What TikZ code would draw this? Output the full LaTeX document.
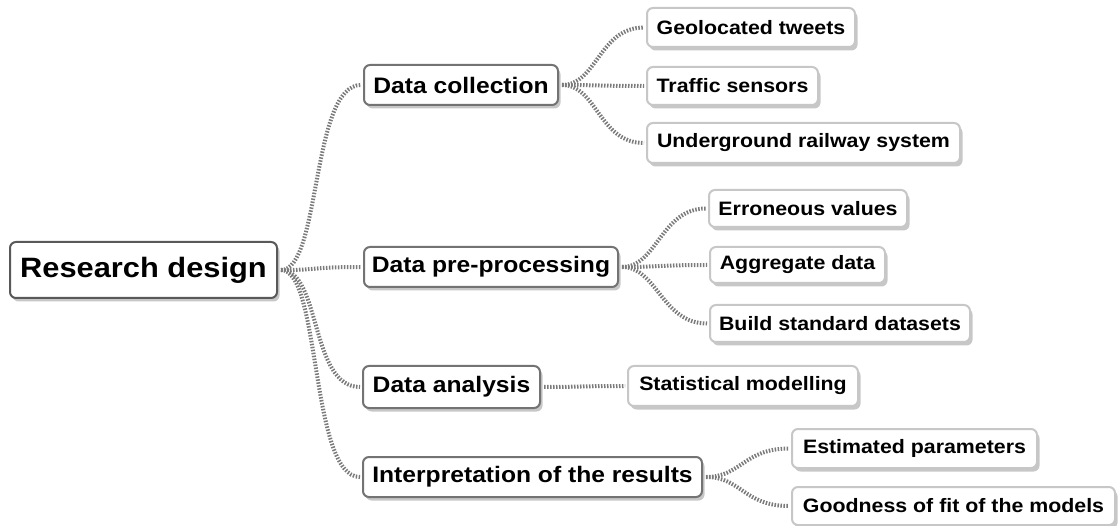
\documentclass[tikz,border=0pt]{standalone}
\usepackage{fontspec}
\newfontfamily\lsans{Liberation Sans}[FakeStretch=1.1]
\usetikzlibrary{shadows}
\begin{document}
\begin{tikzpicture}[x=1pt,y=-1pt,
  box/.style={rounded corners=6pt, fill=white, line width=2pt, inner sep=0pt, align=center,
    font=\lsans\bfseries, text=black,
    drop shadow={shadow xshift=2.5pt, shadow yshift=-3.5pt, opacity=0.22, fill=black}},
  rootbox/.style={box, draw=black!65, font=\lsans\bfseries\fontsize{28}{30}\selectfont},
  mainbox/.style={box, draw=black!55, font=\lsans\bfseries\fontsize{22.4}{25}\selectfont},
  leafbox/.style={box, draw=black!22, font=\lsans\bfseries\fontsize{19.4}{22}\selectfont},
  link/.style={draw=black!52, line width=4pt, dash pattern=on 1.5pt off 1.5pt}]
\useasboundingbox (0,0) rectangle (1119,526);

% root
\node[rootbox, minimum width=267pt, minimum height=56pt] (root) at (143.5,270) {Research design};

% level 1
\node[mainbox, minimum width=194pt, minimum height=40pt] (c1) at (461,85) {Data collection};
\node[mainbox, minimum width=254pt, minimum height=40pt] (c2) at (491,267) {Data pre-processing};
\node[mainbox, minimum width=177pt, minimum height=42pt] (c3) at (451.5,387) {Data analysis};
\node[mainbox, minimum width=339pt, minimum height=40pt] (c4) at (532.5,477) {Interpretation of the results};

% leaves
\node[leafbox, minimum width=208pt, minimum height=39pt] (l11) at (751,27.5) {Geolocated tweets};
\node[leafbox, minimum width=171pt, minimum height=38pt] (l12) at (732.5,86) {Traffic sensors};
\node[leafbox, minimum width=313pt, minimum height=40pt] (l13) at (803.5,143) {Underground railway system};
\node[leafbox, minimum width=198pt, minimum height=37pt] (l21) at (808,208.5) {Erroneous values};
\node[leafbox, minimum width=175pt, minimum height=36pt] (l22) at (797.5,265) {Aggregate data};
\node[leafbox, minimum width=260pt, minimum height=37pt] (l23) at (840,323.5) {Build standard datasets};
\node[leafbox, minimum width=230pt, minimum height=40pt] (l31) at (743,386) {Statistical modelling};
\node[leafbox, minimum width=245pt, minimum height=39pt] (l41) at (914.5,448.5) {Estimated parameters};
\node[leafbox, minimum width=323pt, minimum height=38pt] (l42) at (953.5,506) {Goodness of fit of the models};

% connectors
\foreach \a/\b in {root/c1,root/c2,root/c3,root/c4}
  \path[link] ([xshift=3pt]\a.east) .. controls +(40,0) and +(-50,0) .. ([xshift=-2pt]\b.west);
\foreach \a/\b in {c1/l11,c1/l12,c1/l13,c2/l21,c2/l22,c2/l23,c3/l31,c4/l41,c4/l42}
  \path[link] ([xshift=3pt]\a.east) .. controls +(35,0) and +(-45,0) .. ([xshift=-2pt]\b.west);
\end{tikzpicture}
\end{document}
